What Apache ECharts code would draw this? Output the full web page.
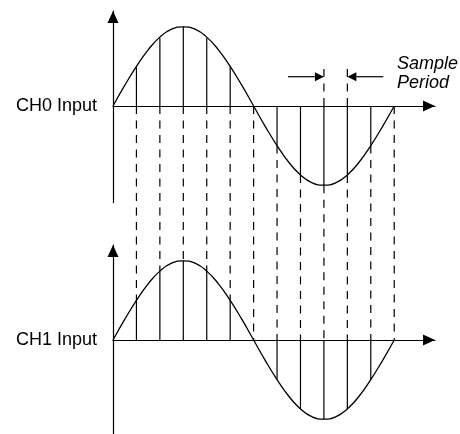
<!DOCTYPE html>
<html><head><meta charset="utf-8">
<script src="https://cdn.jsdelivr.net/npm/echarts@6/dist/echarts.min.js"></script>
<style>html,body{margin:0;padding:0;background:#fff}#c{width:460px;height:434px}</style>
</head><body><div id="c"></div>
<script>
// ---- data ----
const sampleX    = [0, 1, 2, 3, 4, 5, 6, 7, 8, 9, 10, 11, 12];
const ch0Samples = [0, 0.49, 0.86, 1, 0.86, 0.5, 0, -0.5, -0.87, -1, -0.87, -0.5, 0];
const ch1Samples = [0, 0.49, 0.86, 1, 0.86, 0.5, 0, -0.5, -0.87, -1, -0.87, -0.5, 0];
const curveX   = [0, 0.5, 1, 1.5, 2, 2.5, 3, 3.5, 4, 4.5, 5, 5.5, 6, 6.5, 7, 7.5, 8, 8.5, 9, 9.5, 10, 10.5, 11, 11.5, 12];
const ch0Curve = [0, 0.26, 0.5, 0.71, 0.87, 0.97, 1, 0.97, 0.87, 0.71, 0.5, 0.26, 0, -0.26, -0.5, -0.71, -0.87, -0.97, -1, -0.97, -0.87, -0.71, -0.5, -0.26, 0];
const ch1Curve = [0, 0.26, 0.5, 0.71, 0.87, 0.97, 1, 0.97, 0.87, 0.71, 0.5, 0.26, 0, -0.26, -0.5, -0.71, -0.87, -0.97, -1, -0.97, -0.87, -0.71, -0.5, -0.26, 0];
const channelNames = ['CH0 Input', 'CH1 Input'];
const periodSamples = [9, 10];      // the two samples bracketed by the "Sample Period" marker
const periodTop = 0.53;             // how far the bracket dashes rise above CH0 zero
const periodArrowLevel = 0.37;      // level of the bracket arrows
const periodLabel = ['Sample', 'Period'];

// ---- layout ----
const GRIDS = [
  {left: 113, top: 11,  width: 322, height: 191.6},
  {left: 113, top: 245, width: 322, height: 191.6}
];
const SHIFT = GRIDS[1].top - GRIDS[0].top;
const X_MAX = 13.74, Y_MIN = -1.22, Y_MAX = 1.2;
const INK = '#000';
const LW = 1.2;
const DASH = [8, 6.5];
const FONT = '"Liberation Sans", Arial, Helvetica, sans-serif';

function xAxisFor(i) {
  return {
    gridIndex: i, type: 'value', min: 0, max: X_MAX,
    axisLine: {show: true, onZero: true, lineStyle: {color: INK, width: LW},
      symbol: ['none', 'triangle'], symbolSize: [11, 12], symbolOffset: [0, -6]},
    axisTick: {show: false}, axisLabel: {show: false}, splitLine: {show: false},
    name: channelNames[i], nameLocation: 'start', nameGap: 16,
    nameTextStyle: {color: INK, fontSize: 18, fontFamily: FONT}
  };
}
function yAxisFor(i) {
  return {
    gridIndex: i, type: 'value', min: Y_MIN, max: Y_MAX,
    axisLine: {show: true, onZero: false, lineStyle: {color: INK, width: LW},
      symbol: ['none', 'triangle'], symbolSize: [11, 12], symbolOffset: [0, -6]},
    axisTick: {show: false}, axisLabel: {show: false}, splitLine: {show: false}
  };
}
function curveSeries(i, ys) {
  return {
    type: 'line', xAxisIndex: i, yAxisIndex: i, smooth: true, showSymbol: false,
    silent: true, lineStyle: {color: INK, width: 1.3},
    data: curveX.map((x, k) => [x, ys[k]]), z: 5
  };
}
function stemSeries(i, ys) {
  return {
    type: 'custom', xAxisIndex: i, yAxisIndex: i, silent: true, z: 4,
    encode: {x: 0, y: 1},
    data: sampleX.map((x, k) => [x, ys[k]]),
    renderItem: function (params, api) {
      const x = api.value(0), v = api.value(1);
      if (x === 0) return null;
      const a = api.coord([x, 0]), b = api.coord([x, v]);
      return {type: 'line', shape: {x1: a[0], y1: a[1], x2: b[0], y2: b[1]},
        style: {stroke: INK, lineWidth: LW}};
    }
  };
}

const connectorData = sampleX.filter(x => x > 0).map(x => {
  const k = sampleX.indexOf(x);
  return [x, Math.min(0, ch0Samples[k]), Math.max(0, ch1Samples[k])];
});

const option = {
  backgroundColor: '#fff',
  animation: false,
  grid: GRIDS.map(g => Object.assign({outerBoundsMode: 'none', containLabel: false}, g)),
  xAxis: [xAxisFor(0), xAxisFor(1)],
  yAxis: [yAxisFor(0), yAxisFor(1)],
  graphic: [{
    type: 'text', left: 397, top: 54, silent: true,
    style: {text: periodLabel.join('\n'), fill: INK, fontSize: 18, fontStyle: 'italic',
      fontFamily: FONT, lineHeight: 19}
  }],
  series: [
    curveSeries(0, ch0Curve),
    curveSeries(1, ch1Curve),
    stemSeries(0, ch0Samples),
    stemSeries(1, ch1Samples),
    {
      // dashed connectors from CH0 down to CH1
      type: 'custom', xAxisIndex: 0, yAxisIndex: 0, silent: true, z: 3,
      encode: {x: 0, y: 1},
      data: connectorData,
      renderItem: function (params, api) {
        const x = api.value(0);
        const a = api.coord([x, api.value(1)]);
        const b = api.coord([x, api.value(2)]);
        return {type: 'line', shape: {x1: a[0], y1: a[1], x2: b[0], y2: b[1] + SHIFT},
          style: {stroke: INK, lineWidth: LW, lineDash: DASH}};
      }
    },
    {
      // "Sample Period" bracket
      type: 'custom', xAxisIndex: 0, yAxisIndex: 0, silent: true, z: 3,
      encode: {x: 0, y: 1},
      data: [[periodSamples[0], periodTop, -1], [periodSamples[1], periodTop, 1]],
      renderItem: function (params, api) {
        const x = api.value(0), dir = api.value(2);
        const base = api.coord([x, 0]);
        const top = api.coord([x, api.value(1)]);
        const tip = api.coord([x, periodArrowLevel]);
        const headLen = 9, headHalf = 4.5, shaft = 36;
        const bx = tip[0] + dir * headLen;
        return {type: 'group', children: [
          {type: 'line', shape: {x1: base[0], y1: base[1], x2: top[0], y2: top[1]},
            style: {stroke: INK, lineWidth: LW, lineDash: DASH}},
          {type: 'line', shape: {x1: bx, y1: tip[1], x2: tip[0] + dir * shaft, y2: tip[1]},
            style: {stroke: INK, lineWidth: LW}},
          {type: 'polygon', shape: {points: [[tip[0], tip[1]], [bx, tip[1] - headHalf], [bx, tip[1] + headHalf]]},
            style: {fill: INK}}
        ]};
      }
    }
  ]
};

const chart = echarts.init(document.getElementById('c'), null, {renderer: 'canvas'});
chart.setOption(option);
</script>
</body></html>
